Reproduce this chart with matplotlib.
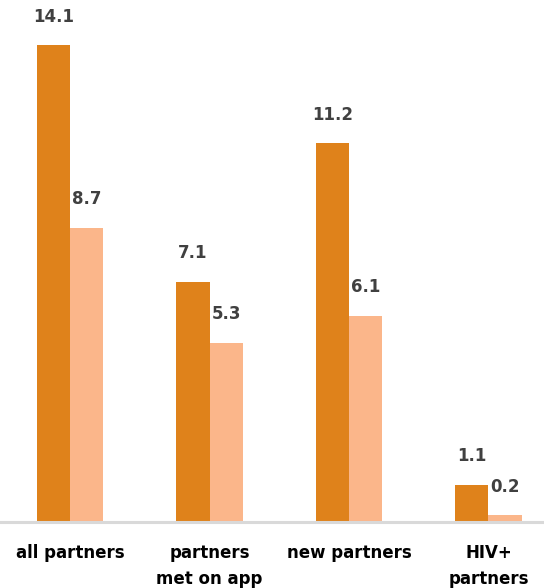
import numpy as np
import matplotlib
matplotlib.use("Agg")
import matplotlib.pyplot as plt

categories = ["all partners", "partners\nmet on app", "new partners", "HIV+\npartners"]
dark_vals = [14.1, 7.1, 11.2, 1.1]
light_vals = [8.7, 5.3, 6.1, 0.2]

dark = "#DF821B"
light = "#FBB68A"

fig = plt.figure(figsize=(5.44, 5.88), dpi=100)
ax = fig.add_axes([0, 66 / 588, 1, 522 / 588])

x = np.arange(len(categories))
w = 0.24
b1 = ax.bar(x - w / 2, dark_vals, w, color=dark)
b2 = ax.bar(x + w / 2, light_vals, w, color=light)

for bars, vals in [(b1, dark_vals), (b2, light_vals)]:
    for r, v in zip(bars, vals):
        ax.annotate(f"{v:.1f}", (r.get_x() + r.get_width() / 2, v),
                    xytext=(0, 14), textcoords="offset points",
                    ha="center", va="bottom", fontsize=12,
                    fontweight="bold", color="#404040")

ax.set_xlim(-0.502, 3.398)
ax.set_ylim(0, 15.43)
ax.set_yticks([])
ax.set_xticks(x)
ax.set_xticklabels(categories, fontsize=12, fontweight="bold",
                   color="black", linespacing=1.55)
ax.tick_params(axis="x", length=0, pad=16)
for s in ["top", "left", "right"]:
    ax.spines[s].set_visible(False)
ax.spines["bottom"].set_color("#D9D9D9")
ax.spines["bottom"].set_linewidth(2.2)

fig.savefig("out.png", dpi=100)
